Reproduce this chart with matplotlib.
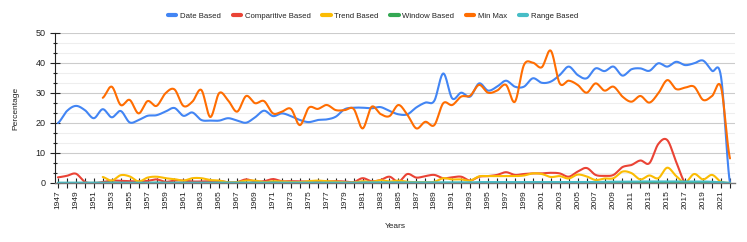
import numpy as np
import matplotlib.pyplot as plt
from matplotlib.ticker import MultipleLocator

plt.rcParams['font.family'] = ['Liberation Sans', 'DejaVu Sans']

# ---- data ----
years = list(range(1947, 2023))
nan = np.nan

date_based = [20.0, 24.0, 25.7, 24.3, 21.6, 24.6, 21.9, 24.0, 20.2, 21.0,
              22.4, 22.6, 23.8, 25.0, 22.4, 23.5, 21.0, 20.8, 20.8, 21.6,
              20.8, 20.1, 21.9, 24.1, 22.3, 23.2, 22.3, 21.0, 20.3, 21.0,
              21.2, 22.1, 24.6, 25.1, 25.1, 24.9, 25.3, 24.0, 22.9, 22.9,
              25.2, 26.8, 27.4, 36.5, 28.2, 30.1, 28.8, 33.2, 30.8, 32.1,
              34.1, 32.1, 32.1, 34.9, 33.4, 33.8, 36.0, 38.8, 36.0, 34.9,
              38.2, 37.3, 38.8, 35.8, 37.9, 38.2, 37.4, 39.9, 38.8, 40.4,
              39.3, 39.9, 40.8, 37.4, 35.4, 0.0]

comparitive = [1.9, 2.4, 3.1, 0.4, 0.0, 0.3, 0.8, 0.7, 0.6, 0.5,
               0.7, 1.2, 0.4, 0.8, 0.8, 0.5, 0.5, 0.6, 0.7, 0.2,
               0.3, 1.2, 0.5, 0.6, 1.3, 0.6, 0.6, 0.5, 0.5, 0.6,
               0.5, 0.6, 0.5, 0.3, 1.6, 0.6, 1.0, 2.1, 0.4, 3.0,
               1.8, 2.3, 2.7, 1.6, 1.9, 2.1, 0.8, 2.1, 2.3, 2.7,
               3.6, 2.7, 3.0, 3.2, 3.2, 3.4, 3.2, 2.1, 3.8, 5.0,
               2.7, 2.4, 2.7, 5.3, 6.0, 7.5, 6.6, 13.0, 14.3, 7.0,
               0.0, 0.0, 0.0, 0.0, 0.0, 0.0]

trend = [nan, nan, nan, nan, nan, 2.0, 0.8, 2.6, 2.2, 0.5,
         1.8, 2.1, 1.6, 1.3, 0.8, 1.6, 1.6, 1.0, 0.8, 0.2,
         0.3, 0.8, 0.8, 0.3, 0.6, 0.5, 0.3, 0.3, 0.6, 0.8,
         0.6, 0.5, 0.2, 0.2, 0.6, 0.4, 0.9, 0.5, 0.8, 0.4,
         0.3, 0.3, 0.4, 1.6, 1.2, 1.2, 0.8, 2.2, 2.3, 2.3,
         2.3, 2.3, 2.5, 3.2, 3.0, 2.0, 2.3, 1.5, 2.8, 2.2,
         1.0, 1.5, 1.6, 3.8, 3.3, 1.2, 2.5, 1.6, 5.1, 2.3,
         0.2, 3.0, 1.2, 2.7, 0.4, 0.0]

window = [0.0, 0.0, 0.0, 0.0, 0.0, 0.0, 0.1, 0.0, 0.0, 0.0,
          0.0, 0.1, 0.0, 0.0, 0.0, 0.0, 0.0, 0.0, 0.0, 0.0,
          0.0, 0.0, 0.0, 0.0, 0.1, 0.0, 0.0, 0.0, 0.0, 0.0,
          0.0, 0.0, 0.0, 0.0, 0.0, 0.0, 0.0, 0.0, 0.0, 0.0,
          0.0, 0.0, 0.0, 0.0, 0.0, 0.0, 0.0, 0.0, 0.0, 0.0,
          0.0, 0.0, 0.0, 0.0, 0.0, 0.0, 0.0, 0.0, 0.0, 0.0,
          0.0, 0.0, 0.0, 0.0, 0.0, 0.0, 0.0, 0.0, 0.0, 0.0,
          0.0, 0.0, 0.0, 0.0, 0.0, 0.0]

min_max = [nan, nan, nan, nan, nan, 28.4, 32.1, 26.0, 27.7, 23.2,
           27.3, 25.7, 29.9, 31.2, 25.7, 27.1, 31.0, 22.0, 30.0, 27.5,
           23.8, 29.0, 26.6, 27.3, 23.2, 23.8, 24.7, 19.3, 25.1, 24.7,
           26.0, 24.3, 24.3, 24.7, 18.2, 25.4, 23.0, 22.3, 26.0, 22.7,
           18.2, 20.4, 19.3, 26.6, 26.0, 28.8, 29.1, 32.7, 30.1, 30.8,
           32.7, 27.1, 39.3, 40.1, 38.6, 44.1, 33.2, 34.1, 32.7, 30.1,
           33.2, 30.8, 32.1, 28.8, 27.1, 29.0, 26.8, 29.9, 34.3, 31.3,
           31.8, 32.1, 27.7, 29.0, 31.9, 8.2]

range_based = [0.1, 0.1, 0.1, 0.1, 0.1, 0.1, 0.1, 0.1, 0.1, 0.1,
               0.1, 0.1, 0.1, 0.1, 0.1, 0.1, 0.1, 0.1, 0.1, 0.1,
               0.1, 0.1, 0.1, 0.1, 0.1, 0.1, 0.1, 0.1, 0.1, 0.1,
               0.1, 0.1, 0.1, 0.1, 0.2, 0.2, 0.2, 0.2, 0.2, 0.2,
               0.2, 0.2, 0.2, 0.2, 0.2, 0.2, 0.2, 0.3, 0.3, 0.3,
               0.3, 0.3, 0.3, 0.3, 0.3, 0.3, 0.3, 0.3, 0.3, 0.3,
               0.3, 0.4, 0.4, 0.4, 0.4, 0.5, 0.5, 0.5, 0.5, 0.5,
               0.5, 0.5, 0.5, 0.4, 0.3, 0.0]

series = [
    ("Date Based", date_based, "#4285F4"),
    ("Comparitive Based", comparitive, "#EA4335"),
    ("Trend Based", trend, "#FBBC04"),
    ("Window Based", window, "#34A853"),
    ("Min Max", min_max, "#FF6D01"),
    ("Range Based", range_based, "#46BDC6"),
]


def smooth(xs, ys, n=24):
    # catmull-rom curve through the points (like curveType 'function')
    xs = np.asarray(xs, float)
    ys = np.asarray(ys, float)
    ok = ~np.isnan(ys)
    xs, ys = xs[ok], ys[ok]
    out_x, out_y = [], []
    t = np.linspace(0, 1, n, endpoint=False)
    for i in range(len(xs) - 1):
        y0 = ys[i - 1] if i > 0 else ys[i]
        y1, y2 = ys[i], ys[i + 1]
        y3 = ys[i + 2] if i + 2 < len(ys) else ys[i + 1]
        yy = 0.5 * (2 * y1 + (-y0 + y2) * t
                    + (2 * y0 - 5 * y1 + 4 * y2 - y3) * t ** 2
                    + (-y0 + 3 * y1 - 3 * y2 + y3) * t ** 3)
        out_x.extend(xs[i] + (xs[i + 1] - xs[i]) * t)
        out_y.extend(yy)
    out_x.append(xs[-1])
    out_y.append(ys[-1])
    return np.array(out_x), np.array(out_y)


fig = plt.figure(figsize=(7.47, 2.42), dpi=100)
ax = fig.add_axes([55 / 747, 1 - 183 / 242, 680 / 747, 150 / 242])

for name, vals, col in series:
    sx, sy = smooth(years, vals)
    ax.plot(sx, sy, color=col, lw=1.5, label=name, solid_capstyle='round')

ax.set_xlim(1946.67, 2022.56)
ax.set_ylim(0, 50)

ax.set_xticks(years)
ax.set_xticklabels([str(y) if (y - 1947) % 2 == 0 else "" for y in years],
                   rotation=90, fontsize=6, color="#222")
ax.yaxis.set_major_locator(MultipleLocator(10))
ax.yaxis.set_minor_locator(MultipleLocator(10 / 3))
ax.tick_params(axis='y', which='major', direction='inout', length=6.5,
               width=0.8, labelsize=6.5, colors='#222')
ax.tick_params(axis='y', which='minor', direction='inout', length=2.5,
               width=0.8, colors='#222')
ax.tick_params(axis='x', direction='inout', length=6.5, width=0.8,
               pad=2, colors='#222')

ax.grid(axis='y', which='major', color='#cccccc', lw=0.8)
ax.grid(axis='y', which='minor', color='#eeeeee', lw=0.8)
ax.set_axisbelow(True)

for s in ['top', 'right']:
    ax.spines[s].set_visible(False)
ax.spines['left'].set_color('#222')
ax.spines['left'].set_linewidth(0.8)
ax.spines['bottom'].set_color('#777')
ax.spines['bottom'].set_linewidth(1.0)

ax.set_ylabel("Percentage", fontsize=6, color='#222', labelpad=12)
ax.set_xlabel("Years", fontsize=6, color='#222', labelpad=10)

leg = fig.legend(loc='center', bbox_to_anchor=(373 / 747, 1 - 16 / 242), ncol=6,
                 frameon=False, fontsize=5.6, handlelength=1.1, handletextpad=0.45,
                 columnspacing=1.5)
for h in leg.get_lines():
    h.set_linewidth(3)
for t in leg.get_texts():
    t.set_color('#222')

fig.savefig("out.png", dpi=100)
